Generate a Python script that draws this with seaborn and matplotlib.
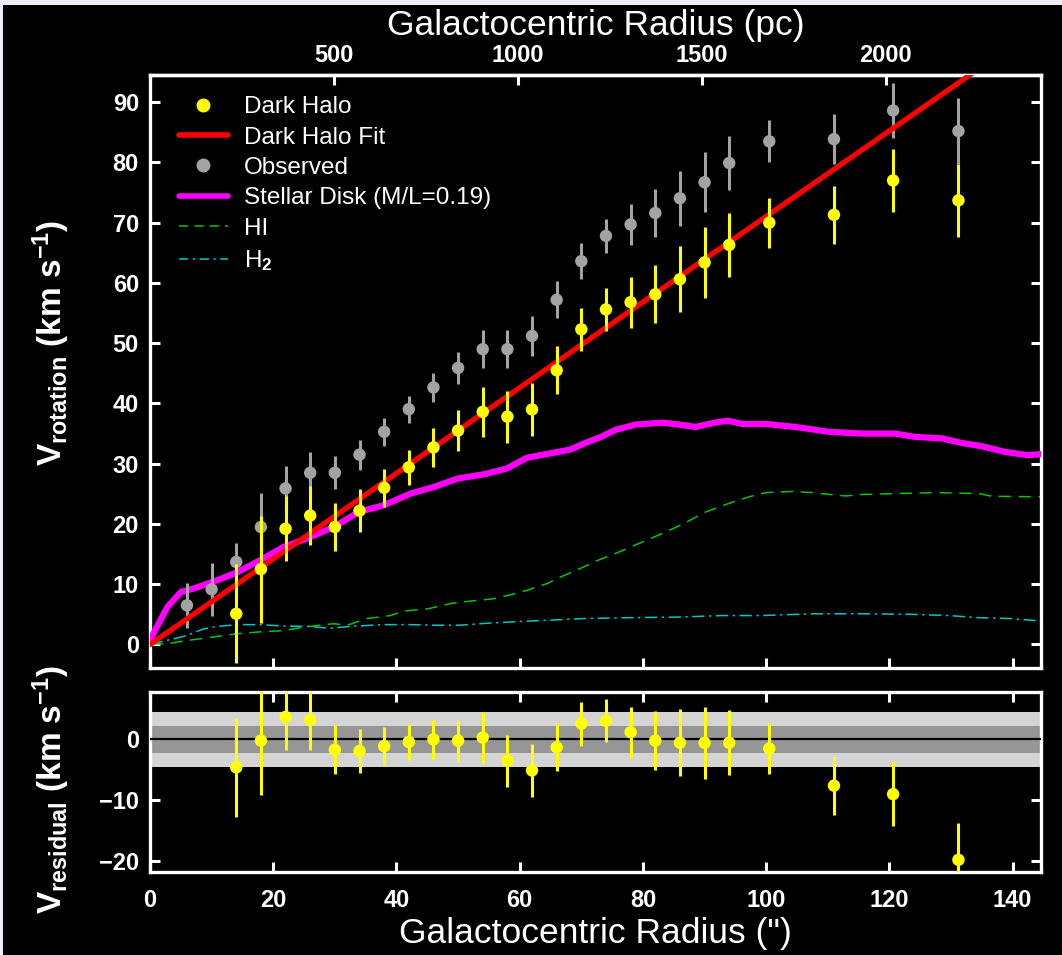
import matplotlib
matplotlib.use("Agg")
import matplotlib.pyplot as plt
from matplotlib.lines import Line2D
from matplotlib.patches import Rectangle
import seaborn as sns

# ---- rotation curve data (radius in arcsec, velocity in km/s) ----
halo_r = [14, 18, 22, 26, 30, 34, 38, 42, 46, 50, 54, 58, 62, 66, 70, 74, 78, 82,
          86, 90, 94, 100.5, 111, 120.6, 131.2]
halo_v = [5.1, 12.5, 19.2, 21.4, 19.5, 22.2, 26.0, 29.4, 32.7, 35.5, 38.6, 37.8,
          39.0, 45.5, 52.3, 55.6, 56.8, 58.1, 60.6, 63.4, 66.3, 70.0, 71.3, 77.0, 73.7]
halo_err = [8.2, 8.9, 5.4, 4.9, 4.0, 3.6, 3.2, 2.9, 3.2, 3.45, 4.15, 4.3, 4.4, 3.95,
            3.6, 3.55, 4.2, 4.8, 5.5, 5.95, 5.35, 4.15, 4.8, 5.3, 6.1]
resid_v = [-4.6, -0.2, 3.7, 3.2, -1.7, -1.9, -1.1, -0.4, 0.0, -0.2, 0.3, -3.5, -5.1,
           -1.3, 2.6, 3.05, 1.2, -0.2, -0.55, -0.55, -0.55, -1.5, -7.6, -9.0, -19.8]

obs_r = [6, 10] + halo_r
obs_v = [6.5, 9.15, 13.7, 19.5, 25.9, 28.5, 28.5, 31.5, 35.3, 39.05, 42.65, 45.9,
         49.0, 49.0, 51.2, 57.2, 63.6, 67.8, 69.7, 71.6, 74.05, 76.7, 79.9, 83.5,
         83.85, 88.6, 85.2]
obs_err = [3.75, 4.4, 3.1, 5.65, 3.8, 3.4, 2.7, 2.5, 2.35, 2.25, 2.45, 2.6, 3.2, 3.2,
           3.35, 3.1, 3.0, 2.8, 3.35, 3.95, 4.6, 5.0, 4.5, 3.5, 4.1, 4.55, 5.5]

fit_r = [0, 145]
fit_v = [0.0, 103.0]

disk_r = [0.1, 2.8, 5.0, 7.1, 10.9, 14.2, 17.9, 21.7, 25.5, 29.8, 33.9, 37.9, 42.3,
          46.1, 49.8, 54.2, 57.9, 61.2, 64.9, 68.2, 70.4, 73.1, 75.5, 78.8, 83.1,
          85.8, 88.5, 92.3, 93.9, 96.1, 99.9, 104.7, 110.1, 115.5, 120.9, 124.2,
          128.5, 131.7, 135.0, 138.8, 142.5, 144.6]
disk_v = [0.96, 6.2, 8.7, 9.3, 10.65, 12.0, 14.0, 16.2, 17.6, 19.5, 22.0, 23.1, 25.05,
          26.15, 27.5, 28.25, 29.2, 31.0, 31.7, 32.35, 33.35, 34.4, 35.6, 36.5, 36.8,
          36.5, 36.1, 36.95, 37.1, 36.6, 36.6, 36.1, 35.3, 35.0, 35.0, 34.45, 34.2,
          33.45, 32.9, 31.95, 31.4, 31.6]

hi_r = [0.1, 2.8, 5.5, 8.2, 10.9, 14.2, 17.9, 21.7, 25.0, 29.8, 32.0, 35.2, 39.0,
        41.2, 45.0, 48.8, 52.0, 55.8, 58.5, 61.2, 64.4, 66.6, 69.8, 72.5, 76.1, 79.3,
        83.1, 86.4, 90.2, 93.9, 97.2, 99.9, 104.2, 107.5, 110.2, 112.9, 115.6, 121.0,
        127.5, 134.5, 136.6, 144.6]
hi_v = [0.1, 0.1, 0.6, 0.95, 1.35, 1.8, 2.1, 2.3, 2.9, 3.45, 3.2, 4.3, 4.8, 5.55, 5.9,
        6.8, 7.2, 7.6, 8.25, 9.0, 10.1, 11.2, 12.6, 13.9, 15.35, 16.75, 18.4, 19.95,
        22.0, 23.4, 24.5, 25.2, 25.4, 25.2, 24.9, 24.65, 24.9, 25.05, 25.2, 25.05,
        24.6, 24.5]

h2_r = [0.1, 3.9, 6.0, 8.7, 10.9, 14.2, 17.9, 21.7, 25.5, 29.3, 32.5, 37.9, 42.2,
        46.0, 50.4, 54.2, 59.6, 65.0, 70.4, 77.7, 85.8, 92.8, 99.3, 107.5, 115.6,
        123.7, 129.7, 134.5, 139.9, 144.4]
h2_v = [0.1, 0.95, 1.5, 2.6, 3.0, 3.3, 3.3, 3.05, 3.0, 2.7, 3.0, 3.3, 3.3, 3.2, 3.2,
        3.5, 3.8, 4.05, 4.3, 4.45, 4.55, 4.8, 4.8, 5.1, 5.1, 5.0, 4.8, 4.45, 4.3, 3.9]

band_outer = 4.5
band_inner = 2.25
pc_per_arcsec = 16.75
pc_ticks = [500, 1000, 1500, 2000]

# ---- styling ----
sns.set_theme(style="dark")
plt.rcParams.update({
    "font.family": ["Liberation Sans", "DejaVu Sans"],
    "font.weight": "bold",
    "mathtext.fontset": "custom",
    "mathtext.rm": "Liberation Sans",
    "mathtext.bf": "Liberation Sans:bold",
    "mathtext.it": "Liberation Sans:italic",
    "axes.facecolor": "black",
    "figure.facecolor": "black",
    "text.color": "white",
    "axes.labelcolor": "white",
    "xtick.color": "white",
    "ytick.color": "white",
})

YELLOW = "#ffff00"
GRAY = "#a3a3a3"
RED = "#ff0000"
MAGENTA = "#ff00ff"
GREEN = "#00c800"
CYAN = "#00c8c8"

W, H = 1062, 955
fig = plt.figure(figsize=(W / 100, H / 100), dpi=100, facecolor="black")
fig.patches.append(Rectangle((0, 1 - 5 / H), 1, 5 / H, transform=fig.transFigure,
                             facecolor="#ececfa", edgecolor="none", zorder=-1))
fig.patches.append(Rectangle((0, 0), 3 / W, 1, transform=fig.transFigure,
                             facecolor="#ececfa", edgecolor="none", zorder=-1))

ax = fig.add_axes([150 / W, 1 - 668 / H, 891 / W, 593 / H])
axr = fig.add_axes([150 / W, 1 - 872 / H, 891 / W, 180 / H])

for a in (ax, axr):
    a.set_facecolor("black")
    a.grid(False)
    for s in a.spines.values():
        s.set_color("white")
        s.set_linewidth(2.4)
        s.set_visible(True)
    a.tick_params(which="both", direction="in", length=7, width=2.2,
                  color="white", labelcolor="white", labelsize=17, pad=8)

# ---- main panel ----
sns.lineplot(x=hi_r, y=hi_v, ax=ax, color=GREEN, lw=1.1, linestyle=(0, (8, 5)),
             estimator=None, sort=False, zorder=2)
sns.lineplot(x=h2_r, y=h2_v, ax=ax, color=CYAN, lw=1.1, linestyle=(0, (8, 3, 1.5, 3)),
             estimator=None, sort=False, zorder=2)
sns.lineplot(x=disk_r, y=disk_v, ax=ax, color=MAGENTA, lw=4.5,
             estimator=None, sort=False, zorder=3)
ax.errorbar(obs_r, obs_v, yerr=obs_err, fmt="none", ecolor=GRAY, elinewidth=2.2,
            capsize=0, zorder=4)
sns.scatterplot(x=obs_r, y=obs_v, ax=ax, color=GRAY, s=80, edgecolor="none", zorder=5)
sns.lineplot(x=fit_r, y=fit_v, ax=ax, color=RED, lw=3.8, estimator=None, zorder=6)
ax.errorbar(halo_r, halo_v, yerr=halo_err, fmt="none", ecolor=YELLOW, elinewidth=2.2,
            capsize=0, zorder=7)
sns.scatterplot(x=halo_r, y=halo_v, ax=ax, color=YELLOW, s=80, edgecolor="none",
                zorder=8)

ax.set_xlim(0, 144.6)
ax.set_ylim(-3.9, 94.5)
ax.set_xticks(range(0, 141, 20))
ax.set_yticks(range(0, 91, 10))
ax.tick_params(axis="x", labelbottom=False, top=False, bottom=True)
ax.tick_params(axis="y", left=True, right=True, labelright=False)
ax.set_xlabel("")
ax.set_ylabel(r"V$_{\mathrm{rotation}}$ (km s$^{\mathrm{-1}}$)", fontsize=24,
              fontweight="bold")
ax.yaxis.set_label_coords(-0.088, 0.548)

top = ax.secondary_xaxis("top", functions=(lambda r: r * pc_per_arcsec,
                                           lambda p: p / pc_per_arcsec))
top.set_xticks(pc_ticks)
top.tick_params(direction="in", length=7, width=2.2, color="white",
                labelcolor="white", labelsize=17, pad=6)
top.spines["top"].set_color("white")
top.spines["top"].set_linewidth(2.4)
top.set_xlabel("Galactocentric Radius (pc)", fontsize=25.5, fontweight="normal",
               labelpad=6)

handles = [
    Line2D([], [], ls="none", marker="o", ms=9, color=YELLOW),
    Line2D([], [], color=RED, lw=4),
    Line2D([], [], ls="none", marker="o", ms=9, color=GRAY),
    Line2D([], [], color=MAGENTA, lw=4),
    Line2D([], [], color=GREEN, lw=1.1, ls=(0, (6, 4))),
    Line2D([], [], color=CYAN, lw=1.1, ls=(0, (6, 3, 1.5, 3))),
]
labels = ["Dark Halo", "Dark Halo Fit", "Observed", "Stellar Disk (M/L=0.19)",
          "HI", r"H$_{\mathrm{2}}$"]
leg = ax.legend(handles, labels, loc="upper left", bbox_to_anchor=(0.0, 1.0135),
                frameon=False, handlelength=2.0, handletextpad=0.65,
                labelspacing=0.345, borderaxespad=0.8,
                prop={"family": "Liberation Sans", "weight": "normal", "size": 17.5})
for t in leg.get_texts():
    t.set_color("white")

# ---- residual panel ----
axr.axhspan(-band_outer, band_outer, color="#d4d4d4", zorder=1, lw=0)
axr.axhspan(-band_inner, band_inner, color="#969696", zorder=2, lw=0)
axr.axhline(0, color="black", lw=1.6, zorder=3)
axr.errorbar(halo_r, resid_v, yerr=halo_err, fmt="none", ecolor=YELLOW,
             elinewidth=2.2, capsize=0, zorder=4)
sns.scatterplot(x=halo_r, y=resid_v, ax=axr, color=YELLOW, s=80, edgecolor="none",
                zorder=5)
axr.set_xlim(0, 144.6)
axr.set_ylim(-21.8, 7.8)
axr.set_xticks(range(0, 141, 20))
axr.set_yticks([0, -10, -20])
axr.tick_params(axis="x", top=True, bottom=True, pad=12)
axr.tick_params(axis="y", left=True, right=True, labelright=False)
axr.set_xlabel('Galactocentric Radius (")', fontsize=25.5, fontweight="normal",
               labelpad=4)
axr.set_ylabel(r"V$_{\mathrm{residual}}$ (km s$^{\mathrm{-1}}$)", fontsize=24,
               fontweight="bold")
axr.yaxis.set_label_coords(-0.088, 0.455)

fig.savefig("out.png", dpi=100, facecolor="black")
